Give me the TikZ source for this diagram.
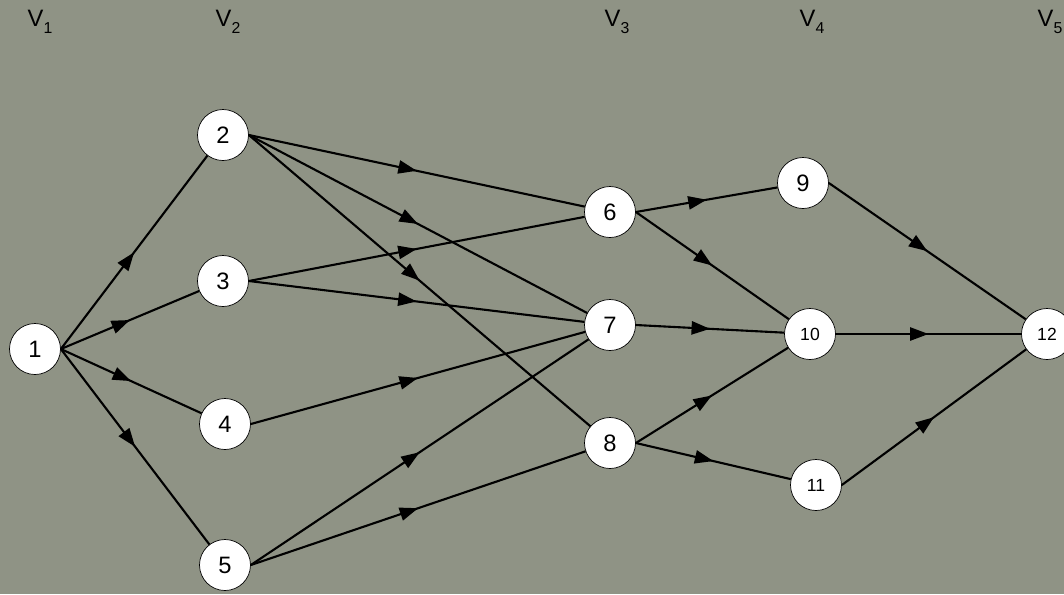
\documentclass[tikz,border=0pt]{standalone}
\usepackage{fontspec}
\setmainfont{Liberation Sans}
\usetikzlibrary{arrows.meta, decorations.markings}
\definecolor{slate}{RGB}{143,147,133}
\tikzstyle{vertex} = [circle, minimum size=1.02cm, inner sep=0pt, draw=black,
    fill=white, font=\fontsize{13.5}{14}\selectfont]
\tikzstyle{smallvertex} = [vertex, font=\fontsize{10}{10}\selectfont]
\tikzstyle{layerlabel} = [font=\fontsize{13.5}{14}\selectfont]
\tikzstyle{arrow} = [line width=1.2pt, postaction={decorate},
    decoration={markings, mark=at position 0.5 with
    {\arrow{Triangle[length=10.5pt,width=7.5pt]}}}]
\newcommand{\lsub}[1]{\raisebox{-4pt}{\fontsize{9}{9}\selectfont #1}}

\begin{document}
\begin{tikzpicture}
            % Background
            \fill[slate] (0,0) rectangle (21.28,-11.88);
            \clip (0,0) rectangle (21.28,-11.88);
            % Layer labels
            \node[layerlabel] (v1) at (0.80,-0.44) {V\lsub{1}};
            \node[layerlabel] (v2) at (4.56,-0.44) {V\lsub{2}};
            \node[layerlabel] (v3) at (12.34,-0.44) {V\lsub{3}};
            \node[layerlabel] (v4) at (16.24,-0.44) {V\lsub{4}};
            \node[layerlabel] (v5) at (21.00,-0.44) {V\lsub{5}};
            % Vertices
            \node[vertex] (n1) at (0.70,-6.98) {1};
            \node[vertex, right of=n1, xshift=2.76cm, yshift=4.28cm] (n2) {2};
            \node[vertex, below of=n2, yshift=-1.92cm] (n3) {3};
            \node[vertex, below of=n3, xshift=0.04cm, yshift=-1.86cm] (n4) {4};
            \node[vertex, below of=n4, yshift=-1.82cm] (n5) {5};
            \node[vertex, right of=n2, xshift=6.74cm, yshift=-1.54cm] (n6) {6};
            \node[vertex, below of=n6, yshift=-1.26cm] (n7) {7};
            \node[vertex, below of=n7, yshift=-1.36cm] (n8) {8};
            \node[vertex, right of=n6, xshift=2.86cm, yshift=0.58cm] (n9) {9};
            \node[smallvertex, right of=n7, xshift=3.00cm, yshift=-0.18cm]
            (n10) {10};
            \node[smallvertex, right of=n8, xshift=3.12cm, yshift=-0.84cm]
            (n11) {11};
            \node[smallvertex, right of=n10, xshift=3.74cm] (n12) {12};
            % Arrows
            \draw[arrow] (n1.east) -- (n2);
            \draw[arrow] (n1.east) -- (n3);
            \draw[arrow] (n1.east) -- (n4);
            \draw[arrow] (n1.east) -- (n5);
            \draw[arrow] (n2.east) -- (n6);
            \draw[arrow] (n2.east) -- (n7);
            \draw[arrow] (n2.east) -- (n8);
            \draw[arrow] (n3.east) -- (n6);
            \draw[arrow] (n3.east) -- (n7);
            \draw[arrow] (n4.east) -- (n7);
            \draw[arrow] (n5.east) -- (n7);
            \draw[arrow] (n5.east) -- (n8);
            \draw[arrow] (n6.east) -- (n9);
            \draw[arrow] (n6.east) -- (n10);
            \draw[arrow] (n7.east) -- (n10);
            \draw[arrow] (n8.east) -- (n10);
            \draw[arrow] (n8.east) -- (n11);
            \draw[arrow] (n9.east) -- (n12);
            \draw[arrow] (n10.east) -- (n12);
            \draw[arrow] (n11.east) -- (n12);

        \end{tikzpicture}
\end{document}
